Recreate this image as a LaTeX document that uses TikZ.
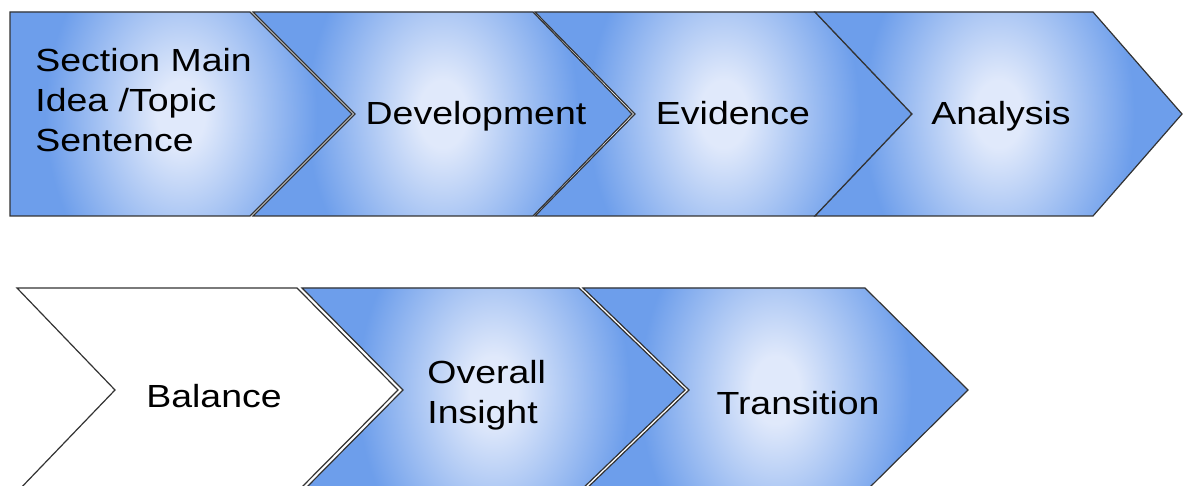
\documentclass[tikz,border=0pt]{standalone}
\usepackage{fontspec}
\newfontfamily\chevfont[FakeStretch=1.17]{Liberation Sans}
\definecolor{chevblue}{RGB}{109,158,235}
\definecolor{chevlight}{RGB}{224,233,251}
% soft glow: light middle fading to the border blue
\pgfdeclareradialshading{chevglow}{\pgfpointorigin}{color(0bp)=(chevlight); color(1.5bp)=(chevlight); color(8.5bp)=(chevblue); color(50bp)=(chevblue)}

\begin{document}
\begin{tikzpicture}[
    x=0.5pt, y=-0.5pt, % pixel-like units, y downwards
    every node/.style={font=\chevfont\fontsize{16}{20}\selectfont, text=black}, % one font for all labels
    outline/.style={draw=black!80, line width=0.6pt, line join=miter}, % chevron border
    steplabel/.style={inner sep=0pt, align=left} % step text
]
    \useasboundingbox (0,0) rectangle (1183,486);
    \clip (0,0) rectangle (1183,486);

    % 1. shaded chevrons: left x / notch depth / right x / tip x / top y
    \foreach \l/\n/\r/\t/\ty in {10/0/250/352/12, 253/102/533/632/12, 535/100/815/912/12,
                                 815/97/1093/1182/12, 302/101/579/685/288, 583/106/865/968/288} {
        \pgfmathsetmacro{\my}{\ty+102}
        \pgfmathsetmacro{\by}{\ty+204}
        \pgfmathsetmacro{\cx}{(\l+\t)/2}
        \draw[outline, fill=chevblue,
              path picture={\shade[shading=chevglow] (\cx,\my) ellipse (400 and 560);}]
            (\l,\ty) -- (\r,\ty) -- (\t,\my) -- (\r,\by) -- (\l,\by) -- (\l+\n,\my) -- cycle;
    }
    % 2. plain white chevron in front of the second row
    \draw[outline, fill=white] (17,288) -- (297,288) -- (398,390) -- (297,492) -- (17,492) -- (115,390) -- cycle;

    % 3. step texts
    \node[steplabel, anchor=west] (idea) at (35,100.5) {Section Main\\Idea /Topic\\Sentence};
    \node[steplabel, anchor=base] (devel) at (476,125) {Development};
    \node[steplabel, anchor=base] (evid) at (733,125) {Evidence};
    \node[steplabel, anchor=base] (anal) at (1001,125) {Analysis};
    \node[steplabel, anchor=base] (bal) at (214,407) {Balance};
    \node[steplabel, anchor=west] (insight) at (427,395) {Overall\\Insight};
    \node[steplabel, anchor=base] (trans) at (798,414) {Transition};
\end{tikzpicture}
\end{document}
